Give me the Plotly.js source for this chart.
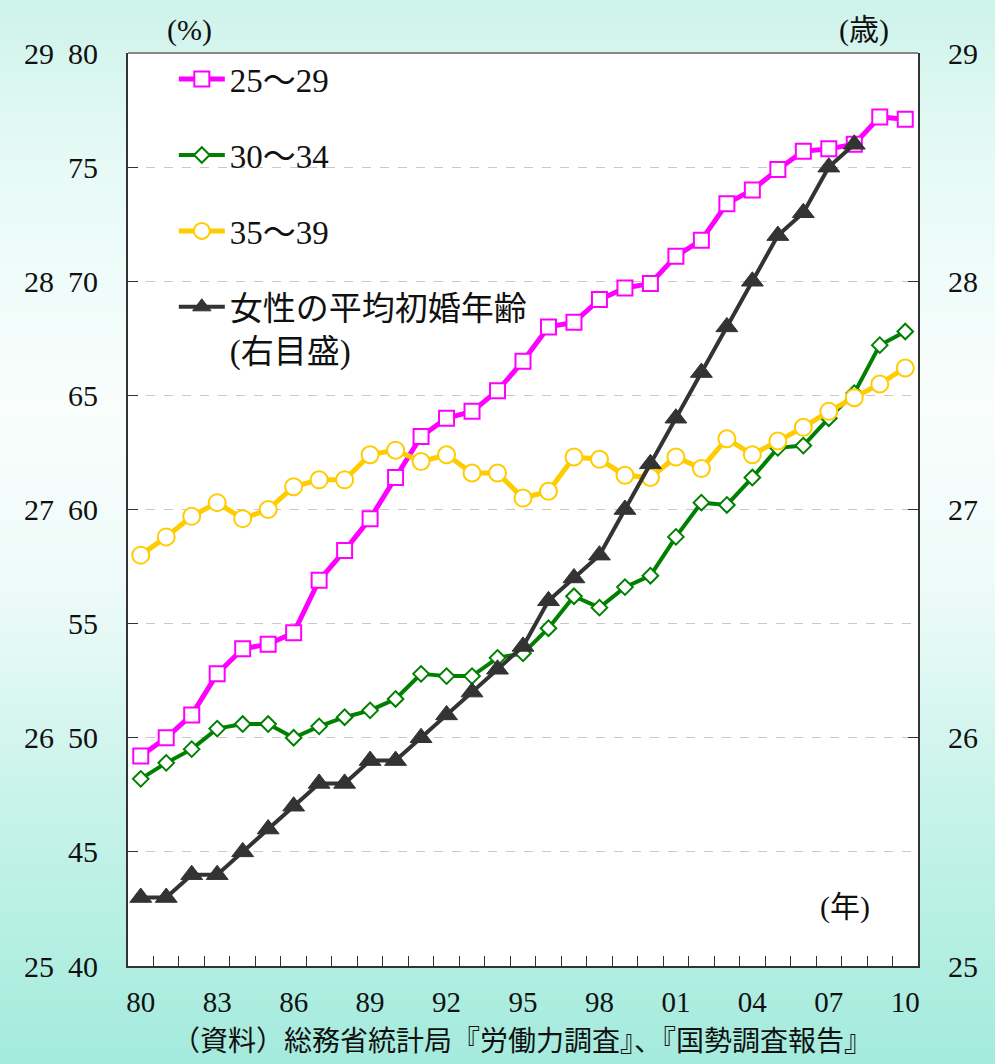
<!DOCTYPE html>
<html>
<head>
<meta charset="utf-8">
<script src="https://cdn.plot.ly/plotly-3.0.1.min.js"></script>
<style>
  html, body { margin:0; padding:0; }
  body {
    width:995px; height:1064px; overflow:hidden;
    background: linear-gradient(to bottom, #cdf3ea 0%, #e6faf5 15%, #f9fefd 38%, #eefbf8 55%, #c8f3ea 75%, #a4ebdd 100%);
  }
  #chart { width:995px; height:1064px; }
</style>
</head>
<body>
<div id="chart"></div>
<script>
// ---- data ----
const years = [1980,1981,1982,1983,1984,1985,1986,1987,1988,1989,1990,1991,1992,1993,1994,1995,1996,1997,1998,1999,2000,2001,2002,2003,2004,2005,2006,2007,2008,2009,2010];
const tickYears = [1980,1983,1986,1989,1992,1995,1998,2001,2004,2007,2010];
const tickLabels = ['80','83','86','89','92','95','98','01','04','07','10'];
const rate2529 = [49.2,50.0,51.0,52.8,53.9,54.1,54.6,56.9,58.2,59.6,61.4,63.2,64.0,64.3,65.2,66.5,68.0,68.2,69.2,69.7,69.9,71.1,71.8,73.4,74.0,74.9,75.7,75.8,76.0,77.2,77.1];
const rate3034 = [48.2,48.9,49.5,50.4,50.6,50.6,50.0,50.5,50.9,51.2,51.7,52.8,52.7,52.7,53.5,53.7,54.8,56.2,55.7,56.6,57.1,58.8,60.3,60.2,61.4,62.7,62.8,64.0,65.1,67.2,67.8];
const rate3539 = [58.0,58.8,59.7,60.3,59.6,60.0,61.0,61.3,61.3,62.4,62.6,62.1,62.4,61.6,61.6,60.5,60.8,62.3,62.2,61.5,61.4,62.3,61.8,63.1,62.4,63.0,63.6,64.3,64.9,65.5,66.2];
const meanAge = [25.3,25.3,25.4,25.4,25.5,25.6,25.7,25.8,25.8,25.9,25.9,26.0,26.1,26.2,26.3,26.4,26.6,26.7,26.8,27.0,27.2,27.4,27.6,27.8,28.0,28.2,28.3,28.5,28.6,null,null];
const seriesNames = ['25～29','30～34','35～39','女性の平均初婚年齢<br>(右目盛)'];
const pctTicks = [40,45,50,55,60,65,70,75,80];
const ageTicks = [25,26,27,28,29];
const boundaryTicks = years.slice(0, -1).map(y => y + 0.5);
const boundaryText = boundaryTicks.map(() => '');

const numFont = '"Liberation Serif", "Times New Roman", serif';
const mixFont = '"Liberation Serif", "Times New Roman", "Noto Sans CJK JP", serif';
const jpFont = '"Noto Sans CJK JP", sans-serif';
const txtColor = '#111';

const traces = [
  {x: years, y: rate2529, name: seriesNames[0], type:'scatter', mode:'lines+markers',
   legendgroup:'a', legendrank:1,
   line:{color:'#ff00ff', width:5},
   marker:{symbol:'square', size:15, color:'#ffffff', line:{color:'#ff00ff', width:2}}},
  {x: years, y: rate3034, name: seriesNames[1], type:'scatter', mode:'lines+markers',
   legendgroup:'b', legendrank:2,
   line:{color:'#008000', width:4},
   marker:{symbol:'diamond', size:12, color:'#ffffff', line:{color:'#008000', width:2}}},
  {x: years, y: rate3539, name: seriesNames[2], type:'scatter', mode:'lines+markers',
   legendgroup:'c', legendrank:3,
   line:{color:'#ffcc00', width:5},
   marker:{symbol:'circle', size:17, color:'#ffffff', line:{color:'#ffcc00', width:2}}},
  {x: years, y: meanAge, name: seriesNames[3], type:'scatter', mode:'lines+markers',
   yaxis:'y2', legendgroup:'d', legendrank:4,
   line:{color:'#333333', width:4},
   marker:{symbol:'triangle-up', size:19, color:'#333333', line:{color:'#333333', width:1}}},
  {x: years, y: meanAge, type:'scatter', mode:'lines', xaxis:'x2', yaxis:'y3', showlegend:false,
   hoverinfo:'skip', opacity:0, line:{width:0}}
];

const layout = {
  width:995, height:1064,
  margin:{l:128, r:77, t:53, b:98},
  paper_bgcolor:'rgba(0,0,0,0)',
  plot_bgcolor:'#ffffff',
  showlegend:true,
  font:{family:numFont, size:29, color:txtColor},
  xaxis:{
    range:[1979.5, 2010.5], tickmode:'array', tickvals:boundaryTicks, ticktext:boundaryText,
    showticklabels:false,
    ticks:'inside', ticklen:10, tickwidth:1, tickcolor:'#333333',
    showgrid:false, zeroline:false,
    showline:true, linecolor:'#333333', linewidth:2
  },
  xaxis2:{
    overlaying:'x', anchor:'y', side:'bottom',
    range:[1979.5, 2010.5], tickmode:'array', tickvals:tickYears, ticktext:tickLabels,
    ticks:'', showgrid:false, zeroline:false, showline:false,
    tickfont:{family:numFont, size:29, color:txtColor},
    ticklabelstandoff:16
  },
  yaxis:{
    range:[40,80], tickmode:'array', tickvals:pctTicks,
    ticks:'inside', ticklen:10, tickwidth:1, tickcolor:'#333333',
    showline:true, linecolor:'#333333', linewidth:2,
    showgrid:true, gridcolor:'#c8c8c8', griddash:'dash', gridwidth:1, zeroline:false,
    tickfont:{family:numFont, size:30, color:txtColor},
    ticklabelstandoff:22
  },
  yaxis2:{
    overlaying:'y', side:'right', range:[25,29], tickmode:'array', tickvals:ageTicks,
    ticks:'inside', ticklen:10, tickwidth:1, tickcolor:'#333333',
    showline:true, linecolor:'#333333', linewidth:2, showgrid:false, zeroline:false,
    tickfont:{family:numFont, size:30, color:txtColor},
    ticklabelstandoff:22
  },
  yaxis3:{
    overlaying:'y', side:'left', anchor:'free', position:0, range:[25,29],
    tickmode:'array', tickvals:ageTicks, ticks:'', showline:false, showgrid:false, zeroline:false,
    tickfont:{family:numFont, size:30, color:txtColor},
    ticklabelstandoff:74
  },
  legend:{
    x:0.058, y:1.002, xanchor:'left', yanchor:'top',
    bgcolor:'rgba(255,255,255,0)', borderwidth:0,
    font:{family:mixFont, size:33, color:txtColor},
    traceorder:'grouped', tracegroupgap:30, itemwidth:46, valign:'top'
  },
  shapes:[
    {type:'rect', xref:'paper', yref:'paper', x0:0.003, x1:0.545, y0:0.66, y1:0.998,
     fillcolor:'#ffffff', line:{width:0}, layer:'between'},
    {type:'line', xref:'paper', yref:'paper', x0:0, x1:1, y0:1, y1:1,
     line:{color:'#888888', width:2}, layer:'above'}
  ],
  annotations:[
    {text:'(%)', xref:'paper', yref:'paper', x:0.078, y:1.025, showarrow:false,
     xanchor:'center', yanchor:'middle', font:{family:mixFont, size:30, color:txtColor}},
    {text:'(歳)', xref:'paper', yref:'paper', x:0.932, y:1.025, showarrow:false,
     xanchor:'center', yanchor:'middle', font:{family:mixFont, size:30, color:txtColor}},
    {text:'(年)', xref:'paper', yref:'paper', x:0.908, y:0.0646, showarrow:false,
     xanchor:'center', yanchor:'middle', font:{family:mixFont, size:30, color:txtColor}},
    {text:'（資料）総務省統計局『労働力調査』、『国勢調査報告』', xref:'paper', yref:'paper',
     x:0.499, y:-0.1045, showarrow:false, xanchor:'center', yanchor:'bottom',
     font:{family:jpFont, size:28, color:txtColor}}
  ]
};

Plotly.newPlot('chart', traces, layout, {displayModeBar:false, staticPlot:true});
</script>
</body>
</html>
